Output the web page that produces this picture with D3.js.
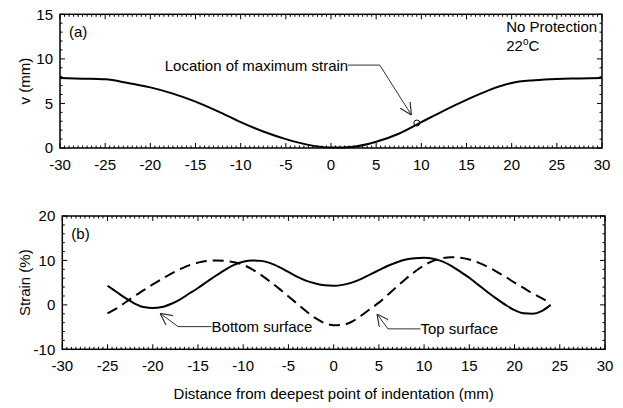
<!DOCTYPE html>
<html>
<head>
<meta charset="utf-8">
<script src="https://cdn.jsdelivr.net/npm/d3@7"></script>
<style>
  body { margin: 0; background: #fff; }
  svg { display: block; font-family: Arial, "Liberation Sans", sans-serif; }
  .line { fill: none; stroke: #000; stroke-width: 2; }
  .dash { stroke-dasharray: 11,6; }
  .lead { fill: none; stroke: #333; stroke-width: 1; }
</style>
</head>
<body>
<svg id="chart" width="623" height="408"></svg>
<script>
// panel (a): vertical displacement
var vX = [-30, -27.5, -25, -22.5, -20, -17.5, -15, -12.5, -10, -7.5, -5, -2.5, 0,
          2.5, 5, 7.5, 10, 12.5, 15, 17.5, 20, 22.5, 25, 27.5, 30];
var vY = [7.85, 7.78, 7.7, 7.3, 6.8, 6.1, 5.2, 4.1, 2.9, 1.85, 1.0, 0.35, 0.05,
          0.15, 0.7, 1.6, 2.9, 4.2, 5.4, 6.5, 7.3, 7.6, 7.75, 7.8, 7.85];
var maxStrainPt = [9.5, 2.8];

// panel (b): strain
var sX = d3.range(-25, 25, 1);  // -25 .. 24
var bottomStrain = [4.3, 2.9, 1.5, 0.3, -0.5, -0.7, -0.5, 0.2, 1.2, 2.5, 3.8, 5.2, 6.6, 7.9, 9.0, 9.7, 10.0, 9.9, 9.4, 8.5,
                    7.4, 6.3, 5.4, 4.8, 4.4, 4.3, 4.5, 5.0, 5.8, 6.8, 7.8, 8.8, 9.6, 10.2, 10.5, 10.6, 10.4, 9.8, 8.8, 7.5,
                    6.1, 4.5, 2.9, 1.4, 0.0, -1.2, -1.9, -2.0, -1.4, 0.0];
var topStrain = [-1.9, -0.8, 0.6, 2.0, 3.3, 4.6, 5.8, 7.0, 8.0, 8.9, 9.5, 9.9, 10.0, 9.9, 9.6, 9.0, 8.0, 6.7, 5.2, 3.6,
                 1.9, 0.2, -1.5, -3.0, -4.1, -4.6, -4.5, -3.8, -2.5, -1.0, 0.5, 2.3, 4.1, 5.9, 7.5, 8.9, 9.9, 10.5, 10.7, 10.6,
                 10.2, 9.5, 8.6, 7.5, 6.3, 5.0, 3.8, 2.6, 1.5, 0.4];

var xTicks = d3.range(-30, 31, 5);
var vTicks = [0, 5, 10, 15];
var sTicks = [-10, 0, 10, 20];

var fs = 15;
var svg = d3.select("#chart");

svg.append("defs").append("marker")
    .attr("id", "arr")
    .attr("viewBox", "0 0 10 10")
    .attr("refX", 10).attr("refY", 5)
    .attr("markerWidth", 12).attr("markerHeight", 12)
    .attr("markerUnits", "userSpaceOnUse")
    .attr("orient", "auto")
  .append("path")
    .attr("d", "M0,0 L10,5 L0,10")
    .attr("fill", "none").attr("stroke", "#333").attr("stroke-width", 1);

function drawFrame(g, x, y, yMajor, yMinorStep) {
    var xr = x.range(), yr = y.range();
    var xMinor = d3.range(-30, 30.01, 0.5).filter(function(d) { return d % 5 != 0; });
    var yd = y.domain();
    var yMinor = d3.range(yd[0], yd[1] + 0.01, yMinorStep).filter(function(d) { return yMajor.indexOf(d) < 0; });

    var ticks = g.append("g").attr("stroke", "#000").attr("stroke-width", 1);
    [yr[0], yr[1]].forEach(function(yy, i) {
        var s = i == 0 ? -1 : 1;
        ticks.selectAll(null).data(xTicks).enter().append("line")
            .attr("x1", x).attr("x2", x).attr("y1", yy).attr("y2", yy + s * 5);
        ticks.selectAll(null).data(xMinor).enter().append("line")
            .attr("x1", x).attr("x2", x).attr("y1", yy).attr("y2", yy + s * 2.5);
    });
    [xr[0], xr[1]].forEach(function(xx, i) {
        var s = i == 0 ? 1 : -1;
        ticks.selectAll(null).data(yMajor).enter().append("line")
            .attr("y1", y).attr("y2", y).attr("x1", xx).attr("x2", xx + s * 5);
        ticks.selectAll(null).data(yMinor).enter().append("line")
            .attr("y1", y).attr("y2", y).attr("x1", xx).attr("x2", xx + s * 2.5);
    });

    g.append("rect")
        .attr("x", xr[0]).attr("y", yr[1])
        .attr("width", xr[1] - xr[0]).attr("height", yr[0] - yr[1])
        .attr("fill", "none").attr("stroke", "#000").attr("stroke-width", 1.5);

    g.selectAll(null).data(xTicks).enter().append("text")
        .attr("x", x).attr("y", yr[0] + 21.5)
        .attr("text-anchor", "middle").attr("font-size", fs)
        .text(function(d) { return d; });
    g.selectAll(null).data(yMajor).enter().append("text")
        .attr("x", xr[0] - 7).attr("y", function(d) { return y(d) + 5.3; })
        .attr("text-anchor", "end").attr("font-size", fs)
        .text(function(d) { return d; });
}

// ---- panel (a)
var xa = d3.scaleLinear().domain([-30, 30]).range([60, 602]);
var ya = d3.scaleLinear().domain([0, 15]).range([148, 14.3]);
var ga = svg.append("g");
drawFrame(ga, xa, ya, vTicks, 1);

ga.append("path")
    .datum(d3.zip(vX, vY))
    .attr("class", "line")
    .attr("d", d3.line().curve(d3.curveMonotoneX)
        .x(function(d) { return xa(d[0]); })
        .y(function(d) { return ya(d[1]); }));

ga.append("circle")
    .attr("cx", xa(maxStrainPt[0])).attr("cy", ya(maxStrainPt[1])).attr("r", 3)
    .attr("fill", "none").attr("stroke", "#000").attr("stroke-width", 1);

ga.append("text").attr("x", xa(-29)).attr("y", ya(13) + 5.3).attr("font-size", fs).text("(a)");
ga.append("text").attr("x", xa(-18.4)).attr("y", ya(9.25) + 5.3).attr("font-size", fs).text("Location of maximum strain");
ga.append("polyline").attr("class", "lead")
    .attr("points", [[xa(1.9), ya(9.3)], [xa(5.4), ya(9.3)], [xa(8.9), ya(3.7)]].join(" "))
    .attr("marker-end", "url(#arr)");
ga.append("text").attr("x", xa(19.4)).attr("y", ya(13.6) + 5.3).attr("font-size", fs).text("No Protection");
var t22 = ga.append("text").attr("x", xa(19.4)).attr("y", ya(11.45) + 5.3).attr("font-size", fs);
t22.append("tspan").text("22");
t22.append("tspan").attr("font-size", 10).attr("dy", -6).text("o");
t22.append("tspan").attr("dy", 6).text("C");

ga.append("text")
    .attr("transform", "translate(" + 30 + "," + ya(7.5) + ") rotate(-90)")
    .attr("text-anchor", "middle").attr("font-size", fs).text("v (mm)");

// ---- panel (b)
var xb = d3.scaleLinear().domain([-30, 30]).range([62.3, 605]);
var yb = d3.scaleLinear().domain([-10, 20]).range([349.3, 216]);
var gb = svg.append("g");
drawFrame(gb, xb, yb, sTicks, 2);

var sLine = d3.line().curve(d3.curveMonotoneX)
    .x(function(d) { return xb(d[0]); })
    .y(function(d) { return yb(d[1]); });

gb.append("path").datum(d3.zip(sX, bottomStrain)).attr("class", "line").attr("d", sLine);
gb.append("path").datum(d3.zip(sX, topStrain)).attr("class", "line dash").attr("d", sLine);

gb.append("text").attr("x", xb(-29)).attr("y", yb(16) + 5.3).attr("font-size", fs).text("(b)");
gb.append("text").attr("x", xb(-13.5)).attr("y", yb(-4.9) + 5.3).attr("font-size", fs).text("Bottom surface");
gb.append("polyline").attr("class", "lead")
    .attr("points", [[xb(-13.5), yb(-4.9)], [xb(-17.2), yb(-4.9)], [xb(-19.2), yb(-1.9)]].join(" "))
    .attr("marker-end", "url(#arr)");
gb.append("text").attr("x", xb(9.6)).attr("y", yb(-5.4) + 5.3).attr("font-size", fs).text("Top surface");
gb.append("polyline").attr("class", "lead")
    .attr("points", [[xb(9.6), yb(-5.4)], [xb(6.0), yb(-5.4)], [xb(4.8), yb(-2.05)]].join(" "))
    .attr("marker-end", "url(#arr)");

gb.append("text")
    .attr("transform", "translate(" + 30 + "," + yb(5) + ") rotate(-90)")
    .attr("text-anchor", "middle").attr("font-size", fs).text("Strain (%)");

svg.append("text")
    .attr("x", xb(0)).attr("y", 399)
    .attr("text-anchor", "middle").attr("font-size", fs)
    .text("Distance from deepest point of indentation (mm)");
</script>
</body>
</html>
